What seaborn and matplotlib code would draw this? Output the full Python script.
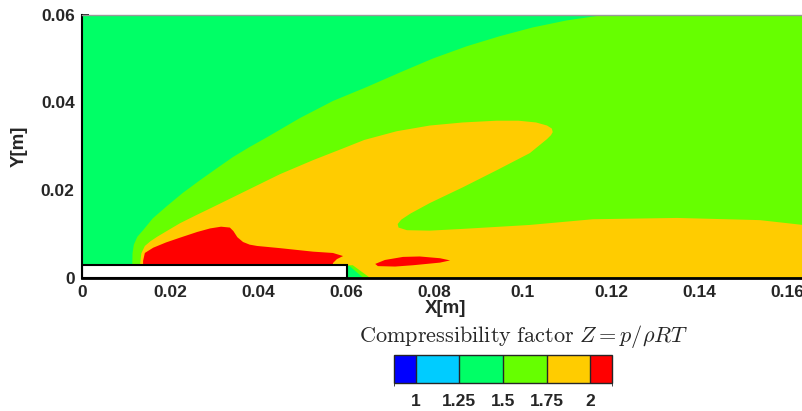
import numpy as np
import matplotlib
matplotlib.use("Agg")
import matplotlib.pyplot as plt
import seaborn as sns
from matplotlib.colors import ListedColormap, BoundaryNorm
from matplotlib.cm import ScalarMappable

# ---------------- data ----------------
level_bounds = [0.875, 1.0, 1.25, 1.5, 1.75, 2.0, 2.125]
level_colors = ["#0000ff", "#00ccff", "#00ff66", "#66ff00", "#ffcc00", "#ff0000"]
cbar_ticks = [1.0, 1.25, 1.5, 1.75, 2.0]
cbar_ticklabels = ["1", "1.25", "1.5", "1.75", "2"]

x_ticks = [0, 0.02, 0.04, 0.06, 0.08, 0.10, 0.12, 0.14, 0.16]
x_ticklabels = ["0", "0.02", "0.04", "0.06", "0.08", "0.1", "0.12", "0.14", "0.16"]
y_ticks = [0, 0.02, 0.04, 0.06]
y_ticklabels = ["0", "0.02", "0.04", "0.06"]

# domain (Z ~ 1.25-1.5 background)
domain_x = [0.0, 0.17, 0.17, 0.0]
domain_y = [0.0, 0.0, 0.06, 0.06]
domain_z = 1.375

# Z 1.5-1.75 region (outer shock layer)
lime_x = [0.0113, 0.0114, 0.0117, 0.0125, 0.0138, 0.0160, 0.0192, 0.0228, 0.0267,
          0.0305, 0.0342, 0.0380, 0.0419, 0.0494, 0.0569, 0.0646, 0.0721, 0.0796,
          0.0873, 0.0948, 0.1023, 0.1100, 0.1175, 0.1191, 0.17, 0.17, 0.0113]
lime_y = [0.0000, 0.0055, 0.0075, 0.0093, 0.0108, 0.0135, 0.0163, 0.0193, 0.0222,
          0.0249, 0.0275, 0.0298, 0.0320, 0.0364, 0.0403, 0.0435, 0.0468, 0.0500,
          0.0528, 0.0551, 0.0571, 0.0587, 0.0598, 0.0600, 0.0600, 0.0, 0.0]
lime_z = 1.625

# Z 1.75-2 region (upper lobe + lower band)
orange_x = [0.0131, 0.0131, 0.0134, 0.0142, 0.0155, 0.0170, 0.0195, 0.0222, 0.0260,
            0.0297, 0.0374, 0.0449, 0.0524, 0.0590, 0.0640, 0.0714, 0.0789, 0.0864,
            0.0941, 0.0990, 0.1030, 0.1055, 0.1066, 0.1068, 0.1064,
            0.1055, 0.1016, 0.0941, 0.0864, 0.0789, 0.0745, 0.0724, 0.0716, 0.0718,
            0.0737, 0.0789, 0.0864, 0.1016, 0.1159, 0.1350, 0.1538, 0.1636, 0.17,
            0.17]
orange_y = [0.0000, 0.0028, 0.0055, 0.0072, 0.0083, 0.0093, 0.0108, 0.0124, 0.0143,
            0.0161, 0.0199, 0.0236, 0.0268, 0.0294, 0.0314, 0.0334, 0.0347, 0.0354,
            0.0358, 0.0358, 0.0354, 0.0347, 0.0340, 0.0332, 0.0325,
            0.0316, 0.0284, 0.0245, 0.0206, 0.0170, 0.0146, 0.0132, 0.0122, 0.0114,
            0.0108, 0.0107, 0.0111, 0.0120, 0.0133, 0.0136, 0.0131, 0.0120, 0.0117,
            0.0]
orange_z = 1.875

# Z > 2 region behind the leading edge
red1_x = [0.0138, 0.0138, 0.0142, 0.0161, 0.0190, 0.0222, 0.0261, 0.0290, 0.0315,
          0.0335, 0.0343, 0.0352, 0.0365, 0.0380, 0.0397, 0.0449, 0.0524, 0.0569,
          0.0592, 0.0578, 0.0569, 0.0569]
red1_y = [0.0028, 0.0038, 0.0056, 0.0068, 0.0080, 0.0091, 0.0104, 0.0112, 0.0116,
          0.0114, 0.0106, 0.0092, 0.0081, 0.0075, 0.0072, 0.0067, 0.0059, 0.0056,
          0.0049, 0.0042, 0.0033, 0.0028]
# Z > 2 region downstream of the plate
red2_x = [0.0665, 0.0687, 0.0728, 0.0766, 0.0812, 0.0835, 0.0812, 0.0751, 0.0710, 0.0671]
red2_y = [0.0031, 0.0040, 0.0047, 0.0048, 0.0044, 0.0039, 0.0034, 0.0028, 0.0025, 0.0026]
red_z = 2.05

# small wake corner behind the plate trailing edge
wake_lime_x = [0.0601, 0.0614, 0.0652, 0.0601]
wake_lime_y = [0.0028, 0.0028, 0.0000, 0.0000]
wake_green_x = [0.0601, 0.0607, 0.0637, 0.0601]
wake_green_y = [0.0026, 0.0026, 0.0000, 0.0000]

# flat plate
plate_x = [0.0, 0.06, 0.06, 0.0]
plate_y = [0.0, 0.0, 0.0028, 0.0028]

# ---------------- figure ----------------
sns.set_style("ticks")
plt.rcParams["font.family"] = ["Liberation Sans", "DejaVu Sans"]
plt.rcParams["mathtext.fontset"] = "cm"

W, H = 803, 411
fig = plt.figure(figsize=(W / 100, H / 100), dpi=100)
ax = fig.add_axes([82.3 / W, (H - 277.5) / H, 726.8 / W, 262.8 / H])

cmap = ListedColormap(level_colors)
norm = BoundaryNorm(level_bounds, cmap.N)

def region(xs, ys, z):
    ax.fill(xs, ys, color=cmap(norm(z)), lw=0, zorder=1)

region(domain_x, domain_y, domain_z)
region(lime_x, lime_y, lime_z)
region(orange_x, orange_y, orange_z)
region(red1_x, red1_y, red_z)
region(red2_x, red2_y, red_z)
region(wake_lime_x, wake_lime_y, lime_z)
region(wake_green_x, wake_green_y, domain_z)
ax.fill(plate_x, plate_y, facecolor="white", edgecolor="black", lw=1.5, zorder=3)

ax.set_xlim(0, 0.165)
ax.set_ylim(0, 0.06)

ax.set_xticks(x_ticks)
ax.set_xticklabels(x_ticklabels)
ax.set_yticks(y_ticks)
ax.set_yticklabels(y_ticklabels)
ax.set_xticks(np.arange(0, 0.165, 0.004), minor=True)
ax.set_yticks(np.arange(0, 0.0601, 0.004), minor=True)
ax.tick_params(which="major", direction="in", length=5, width=1.2, color="black",
               labelsize=12.5, pad=5.5)
ax.tick_params(which="minor", direction="in", length=3, width=1, color="black")
for lab in ax.get_xticklabels() + ax.get_yticklabels():
    lab.set_fontweight("bold")

for s in ax.spines.values():
    s.set_zorder(5)
ax.spines["left"].set_color("black")
ax.spines["left"].set_linewidth(1.5)
ax.spines["bottom"].set_color("black")
ax.spines["bottom"].set_linewidth(2)
ax.spines["top"].set_color("#999999")
ax.spines["top"].set_linewidth(1)
ax.spines["right"].set_visible(False)

ax.set_xlabel("X[m]", fontsize=13.5, fontweight="bold", va="top")
ax.xaxis.set_label_coords(0.5, -0.084)
ax.set_ylabel("Y[m]", fontsize=13.5, fontweight="bold")
ax.yaxis.set_label_coords(-0.075, 0.5)

# ---------------- colour bar ----------------
cax = fig.add_axes([394 / W, (H - 383) / H, 218 / W, 28 / H])
sm = ScalarMappable(norm=norm, cmap=cmap)
cb = fig.colorbar(sm, cax=cax, orientation="horizontal", ticks=cbar_ticks,
                  spacing="proportional", drawedges=True)
cb.set_ticklabels(cbar_ticklabels)
cb.outline.set_linewidth(1)
cb.dividers.set_linewidth(1)
cax.tick_params(length=0, labelsize=12.5, pad=8)
for lab in cax.get_xticklabels():
    lab.set_fontweight("bold")

fig.text(524 / W, 1 - 336 / H, r"$\mathrm{Compressibility\ factor}\ Z = p/\rho RT$",
         ha="center", va="center", fontsize=16)

fig.savefig("out.png", dpi=100)
